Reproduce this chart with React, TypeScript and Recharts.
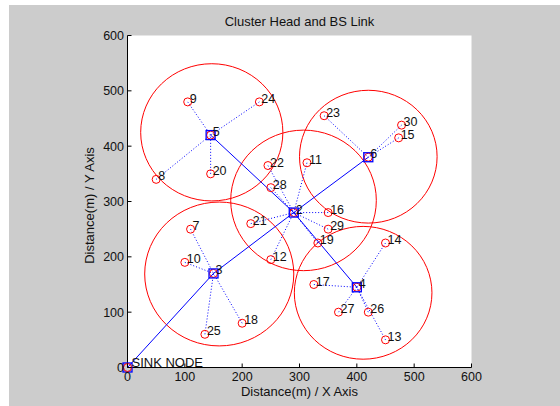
import React from "react";
import { CartesianGrid, Scatter, ScatterChart, XAxis, YAxis } from "recharts";

const FONT = '"Liberation Sans", Arial, Helvetica, sans-serif';
const INK = "#111";
const RED = "#ff0000";
const BLUE = "#0000ff";

// layout of the axes box inside the 560x406 figure
const CHART_W = 560;
const CHART_H = 406;
const PLOT_LEFT = 127.5;
const PLOT_TOP = 35.5;
const PLOT_W = 344;
const PLOT_H = 332;
const AXIS_MAX = 600;

const xTicks = [0, 100, 200, 300, 400, 500, 600];
const yTicks = [0, 100, 200, 300, 400, 500, 600];

// sensor nodes (ids 2..30), distance in metres
const nodeIds = [2, 3, 4, 5, 6, 7, 8, 9, 10, 11, 12, 13, 14, 15, 16, 17, 18, 19, 20, 21, 22, 23, 24, 25, 26, 27, 28, 29, 30];
const nodeX = [290, 150, 400, 145, 420, 110, 50, 105, 100, 313, 250, 450, 450, 473, 350, 325, 200, 332, 145, 215, 245, 343, 230, 135, 420, 368, 250, 350, 478];
const nodeY = [280, 170, 145, 420, 380, 250, 340, 480, 190, 370, 195, 50, 225, 415, 280, 150, 80, 225, 350, 260, 365, 455, 480, 60, 100, 100, 325, 250, 438];

const sinkX = 0;
const sinkY = 0;

const headIds = [2, 3, 4, 5, 6];

// member -> its cluster head (dotted links)
const memberIds = [7, 8, 9, 10, 11, 12, 13, 14, 15, 16, 17, 18, 19, 20, 21, 22, 23, 24, 25, 26, 27, 28, 29, 30];
const memberHead = [3, 5, 5, 3, 2, 2, 4, 4, 6, 2, 4, 3, 2, 5, 2, 2, 6, 5, 3, 4, 4, 2, 2, 6];

// cluster head -> BS route (solid links), 0 = sink
const linkFrom = [3, 2, 5, 6, 4];
const linkTo = [0, 3, 2, 2, 2];

// cluster coverage circles
const ringX = [147, 420, 307, 160, 411];
const ringY = [425, 381, 302, 169, 135];
const ringR = [124, 120, 127, 130, 120];

const pos = (id: number) => {
  if (id === 0) return { x: sinkX, y: sinkY };
  const i = nodeIds.indexOf(id);
  return { x: nodeX[i], y: nodeY[i] };
};

const rings = ringX.map((x, i) => ({ x, y: ringY[i], r: ringR[i] }));
const members = memberIds.map((id) => ({ id, ...pos(id) }));
const heads = headIds.map((id) => ({ id, ...pos(id) }));
const sink = [{ id: 0, x: sinkX, y: sinkY }];
const memberLinks = memberIds.map((id, i) => [pos(id), pos(memberHead[i])]);
const routeLinks = linkFrom.map((id, i) => [pos(id), pos(linkTo[i])]);

const Empty = () => <g />;

function RingShape(props: any) {
  const { cx, cy, payload } = props;
  return (
    <ellipse
      cx={cx}
      cy={cy}
      rx={(payload.r * PLOT_W) / AXIS_MAX}
      ry={(payload.r * PLOT_H) / AXIS_MAX}
      fill="none"
      stroke={RED}
      strokeWidth={1}
    />
  );
}

function NodeShape(props: any) {
  const { cx, cy, payload } = props;
  return (
    <g>
      <circle cx={cx} cy={cy} r={4} fill="none" stroke={RED} strokeWidth={1} />
      <text x={cx + 2} y={cy + 1} fontSize={12.5} fontFamily={FONT} fill={INK}>
        {payload.id}
      </text>
    </g>
  );
}

function HeadShape(props: any) {
  const { cx, cy, payload } = props;
  return (
    <g>
      <circle cx={cx} cy={cy} r={4} fill="none" stroke={RED} strokeWidth={1} />
      <rect x={cx - 4.5} y={cy - 4.5} width={9} height={9} fill="none" stroke={BLUE} strokeWidth={1.3} />
      <text x={cx + 2} y={cy + 1} fontSize={12.5} fontFamily={FONT} fill={INK}>
        {payload.id}
      </text>
    </g>
  );
}

function SinkShape(props: any) {
  const { cx, cy } = props;
  return (
    <g>
      <rect x={cx - 4.5} y={cy - 4.5} width={9} height={9} fill="none" stroke={BLUE} strokeWidth={1.3} />
      <circle cx={cx} cy={cy} r={4} fill="none" stroke={RED} strokeWidth={1} />
      <text x={cx + 4} y={cy - 1} fontSize={13} fontFamily={FONT} fill={INK}>
        SINK NODE
      </text>
    </g>
  );
}

function BottomTick(props: any) {
  const { x, y, payload } = props;
  return (
    <g>
      <line x1={x} x2={x} y1={y} y2={y - 4} stroke="#000" />
      <text x={x} y={y + 13} textAnchor="middle" fontSize={12.5} fontFamily={FONT} fill={INK}>
        {payload.value}
      </text>
    </g>
  );
}

function LeftTick(props: any) {
  const { x, y, payload } = props;
  return (
    <g>
      <line x1={x} x2={x + 4} y1={y} y2={y} stroke="#000" />
      <text x={x - 3.5} y={y + 4.5} textAnchor="end" fontSize={12.5} fontFamily={FONT} fill={INK}>
        {payload.value}
      </text>
    </g>
  );
}

function TopTick(props: any) {
  const { x, y } = props;
  return <line x1={x} x2={x} y1={y} y2={y + 4} stroke="#000" />;
}

function RightTick(props: any) {
  const { x, y } = props;
  return <line x1={x} x2={x - 4} y1={y} y2={y} stroke="#000" />;
}

export default function App() {
  return (
    <div style={{ position: "absolute", left: 0, top: 0, width: CHART_W, height: CHART_H, fontFamily: FONT }}>
      <div style={{ position: "absolute", left: 9, top: 5, right: 0, bottom: 0, background: "#cccccc" }} />
      <div
        style={{
          position: "absolute",
          left: PLOT_LEFT,
          top: 15,
          width: PLOT_W,
          textAlign: "center",
          fontSize: 13,
          lineHeight: "13px",
          color: INK
        }}
      >
        Cluster Head and BS Link
      </div>
      <div style={{ position: "absolute", left: 0, top: 0 }}>
        <ScatterChart
          width={CHART_W}
          height={CHART_H}
          margin={{ top: PLOT_TOP, right: CHART_W - PLOT_LEFT - PLOT_W, bottom: 0, left: 0 }}
        >
          <CartesianGrid fill="#ffffff" horizontal={false} vertical={false} stroke="none" />
          <XAxis
            type="number"
            dataKey="x"
            domain={[0, AXIS_MAX]}
            ticks={xTicks}
            interval={0}
            height={CHART_H - PLOT_TOP - PLOT_H}
            tickSize={0}
            tickMargin={0}
            tickLine={false}
            axisLine={{ stroke: "#000" }}
            tick={<BottomTick />}
          />
          <YAxis
            type="number"
            dataKey="y"
            domain={[0, AXIS_MAX]}
            ticks={yTicks}
            interval={0}
            width={PLOT_LEFT}
            tickSize={0}
            tickMargin={0}
            tickLine={false}
            axisLine={{ stroke: "#000" }}
            tick={<LeftTick />}
          />
          <XAxis
            xAxisId="top"
            orientation="top"
            type="number"
            domain={[0, AXIS_MAX]}
            ticks={xTicks}
            interval={0}
            height={0}
            tickSize={0}
            tickMargin={0}
            tickLine={false}
            axisLine={{ stroke: "#000" }}
            tick={<TopTick />}
          />
          <YAxis
            yAxisId="right"
            orientation="right"
            type="number"
            domain={[0, AXIS_MAX]}
            ticks={yTicks}
            interval={0}
            width={0}
            tickSize={0}
            tickMargin={0}
            tickLine={false}
            axisLine={{ stroke: "#000" }}
            tick={<RightTick />}
          />
          <Scatter data={rings} shape={<RingShape />} isAnimationActive={false} />
          {memberLinks.map((seg, i) => (
            <Scatter
              key={`m${i}`}
              data={seg}
              shape={<Empty />}
              line={{ stroke: BLUE, strokeWidth: 1, strokeDasharray: "1 2" }}
              isAnimationActive={false}
            />
          ))}
          {routeLinks.map((seg, i) => (
            <Scatter
              key={`r${i}`}
              data={seg}
              shape={<Empty />}
              line={{ stroke: BLUE, strokeWidth: 1 }}
              isAnimationActive={false}
            />
          ))}
          <Scatter data={members} shape={<NodeShape />} isAnimationActive={false} />
          <Scatter data={heads} shape={<HeadShape />} isAnimationActive={false} />
          <Scatter data={sink} shape={<SinkShape />} isAnimationActive={false} />
        </ScatterChart>
      </div>
      <div
        style={{
          position: "absolute",
          left: PLOT_LEFT,
          top: 385,
          width: PLOT_W,
          textAlign: "center",
          fontSize: 13,
          lineHeight: "13px",
          color: INK
        }}
      >
        Distance(m) / X Axis
      </div>
      <div
        style={{
          position: "absolute",
          left: 88.5 - 100,
          top: 205 - 6.5,
          width: 200,
          height: 13,
          textAlign: "center",
          fontSize: 13,
          lineHeight: "13px",
          color: INK,
          transform: "rotate(-90deg)",
          whiteSpace: "nowrap"
        }}
      >
        Distance(m) / Y Axis
      </div>
    </div>
  );
}
